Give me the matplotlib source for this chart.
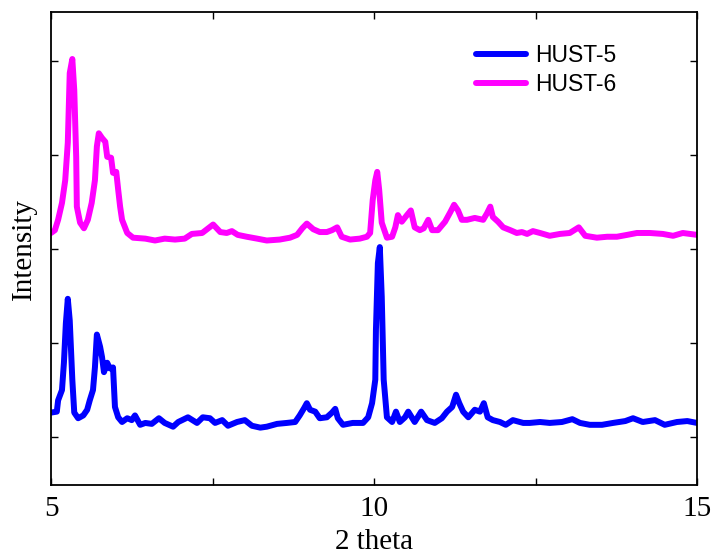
import matplotlib
matplotlib.use("Agg")
import matplotlib.pyplot as plt

# HUST-5 (blue) trace, 2theta vs intensity (arbitrary units)
hust5_x = [5.00, 5.09, 5.11, 5.17, 5.20, 5.23, 5.26, 5.29, 5.33, 5.36, 5.42, 5.50, 5.56, 5.60,
           5.65, 5.68, 5.71, 5.76, 5.79, 5.82, 5.87, 5.91, 5.96, 5.99, 6.04, 6.10, 6.18, 6.25,
           6.30, 6.38, 6.46, 6.56, 6.67, 6.76, 6.89, 6.97, 7.12, 7.26, 7.35, 7.46, 7.54, 7.65,
           7.74, 7.88, 8.00, 8.11, 8.24, 8.34, 8.50, 8.65, 8.78, 8.85, 8.92, 8.96, 9.01, 9.09,
           9.16, 9.27, 9.35, 9.40, 9.44, 9.52, 9.67, 9.83, 9.91, 9.97, 10.02, 10.03, 10.06,
           10.09, 10.12, 10.15, 10.20, 10.28, 10.34, 10.40, 10.48, 10.53, 10.63, 10.73, 10.82,
           10.94, 11.05, 11.13, 11.21, 11.27, 11.32, 11.38, 11.46, 11.56, 11.64, 11.70, 11.76,
           11.84, 11.95, 12.04, 12.15, 12.31, 12.41, 12.57, 12.72, 12.91, 13.07, 13.19, 13.34,
           13.53, 13.70, 13.89, 14.01, 14.16, 14.35, 14.50, 14.69, 14.85, 15.00]
hust5_y = [0.26, 0.27, 0.39, 0.50, 0.79, 1.21, 1.47, 1.24, 0.61, 0.26, 0.20, 0.23, 0.29, 0.39,
           0.50, 0.74, 1.09, 0.96, 0.85, 0.69, 0.79, 0.73, 0.74, 0.32, 0.21, 0.16, 0.20, 0.18,
           0.23, 0.13, 0.15, 0.14, 0.20, 0.15, 0.11, 0.16, 0.21, 0.15, 0.21, 0.20, 0.15, 0.18,
           0.12, 0.16, 0.18, 0.12, 0.10, 0.11, 0.14, 0.15, 0.16, 0.23, 0.31, 0.36, 0.29, 0.27,
           0.20, 0.21, 0.26, 0.30, 0.20, 0.13, 0.15, 0.15, 0.21, 0.36, 0.61, 1.14, 1.85,
           2.02, 1.49, 0.61, 0.21, 0.16, 0.27, 0.16, 0.21, 0.27, 0.16, 0.27, 0.18,
           0.15, 0.20, 0.27, 0.32, 0.45, 0.36, 0.27, 0.21, 0.29, 0.27, 0.36, 0.21,
           0.18, 0.16, 0.13, 0.18, 0.15, 0.15, 0.16, 0.15, 0.16, 0.19, 0.15, 0.13,
           0.13, 0.15, 0.17, 0.20, 0.16, 0.18, 0.13, 0.16, 0.17, 0.15]

# HUST-6 (magenta) trace
hust6_x = [5.00, 5.06, 5.11, 5.17, 5.22, 5.26, 5.29, 5.33, 5.36, 5.39, 5.40, 5.45, 5.51, 5.57,
           5.63, 5.68, 5.71, 5.74, 5.79, 5.84, 5.87, 5.93, 5.96, 6.01, 6.04, 6.07, 6.10, 6.18,
           6.27, 6.46, 6.61, 6.76, 6.92, 7.07, 7.18, 7.34, 7.51, 7.62, 7.72, 7.80, 7.89, 8.03,
           8.19, 8.34, 8.54, 8.70, 8.81, 8.89, 8.96, 9.06, 9.16, 9.27, 9.35, 9.43, 9.50, 9.63,
           9.78, 9.89, 9.94, 9.98, 10.02, 10.05, 10.08, 10.12, 10.20, 10.28, 10.33, 10.37,
           10.43, 10.51, 10.57, 10.63, 10.71, 10.77, 10.84, 10.90, 10.99, 11.10, 11.18, 11.24,
           11.30, 11.36, 11.44, 11.56, 11.69, 11.75, 11.80, 11.84, 11.92, 12.00, 12.11, 12.21,
           12.29, 12.37, 12.46, 12.57, 12.72, 12.88, 13.03, 13.17, 13.27, 13.45, 13.61, 13.76,
           13.92, 14.07, 14.27, 14.47, 14.63, 14.78, 15.00]
hust6_y = [2.17, 2.20, 2.31, 2.49, 2.73, 3.13, 3.87, 4.02, 3.69, 2.98, 2.45, 2.28, 2.22, 2.31,
           2.49, 2.73, 3.09, 3.23, 3.18, 3.14, 2.98, 2.97, 2.81, 2.82, 2.63, 2.45, 2.31, 2.17,
           2.12, 2.11, 2.09, 2.11, 2.10, 2.11, 2.16, 2.17, 2.26, 2.18, 2.17, 2.19, 2.15, 2.13,
           2.11, 2.09, 2.10, 2.12, 2.15, 2.22, 2.27, 2.21, 2.18, 2.18, 2.20, 2.23, 2.13, 2.10,
           2.11, 2.13, 2.17, 2.52, 2.73, 2.82, 2.63, 2.28, 2.12, 2.13, 2.23, 2.36,
           2.29, 2.36, 2.41, 2.23, 2.20, 2.22, 2.31, 2.20, 2.20, 2.29, 2.39, 2.47,
           2.41, 2.31, 2.31, 2.33, 2.31, 2.38, 2.45, 2.34, 2.29, 2.23, 2.20, 2.17,
           2.18, 2.16, 2.19, 2.17, 2.14, 2.16, 2.17, 2.23, 2.14, 2.12, 2.13, 2.13,
           2.15, 2.17, 2.17, 2.16, 2.14, 2.17, 2.15]

series_labels = ["HUST-5", "HUST-6"]
x_ticks = [5, 7.5, 10, 12.5, 15]
x_tick_labels = ["5", "", "10", "", "15"]
y_ticks = [0, 1, 2, 3, 4]

serif = "Liberation Serif"

fig = plt.figure(figsize=(7.14, 5.57), dpi=100)
ax = fig.add_axes([51 / 714, 1 - 485 / 557, (697 - 51) / 714, (485 - 12) / 557])

ax.plot(hust5_x, hust5_y, color="#0000ff", lw=4.3, label=series_labels[0],
        solid_joinstyle="round", solid_capstyle="round")
ax.plot(hust6_x, hust6_y, color="#ff00ff", lw=4.3, label=series_labels[1],
        solid_joinstyle="round", solid_capstyle="round")

ax.set_xlim(5, 15)
ax.set_ylim(-0.51, 4.52)
ax.set_xticks(x_ticks)
ax.set_xticklabels(x_tick_labels, fontfamily=serif, fontsize=21)
ax.set_yticks(y_ticks)
ax.set_yticklabels([])
ax.tick_params(direction="in", length=5, width=1, top=True, right=True, pad=8)
for s in ax.spines.values():
    s.set_linewidth(1.3)

ax.set_xlabel("2 theta", fontfamily=serif, fontsize=21, labelpad=5)
ax.set_ylabel("Intensity", fontfamily=serif, fontsize=21, labelpad=2)

leg = ax.legend(loc="upper left", bbox_to_anchor=(476 / 714, 1 - 44 / 557),
                bbox_transform=fig.transFigure, frameon=False,
                prop={"family": "Liberation Sans", "size": 16.5},
                handlelength=2.2, handletextpad=0.4, labelspacing=0.25,
                borderpad=0, borderaxespad=0)
for line in leg.get_lines():
    line.set_linewidth(4.3)

fig.savefig("out.png", dpi=100)
